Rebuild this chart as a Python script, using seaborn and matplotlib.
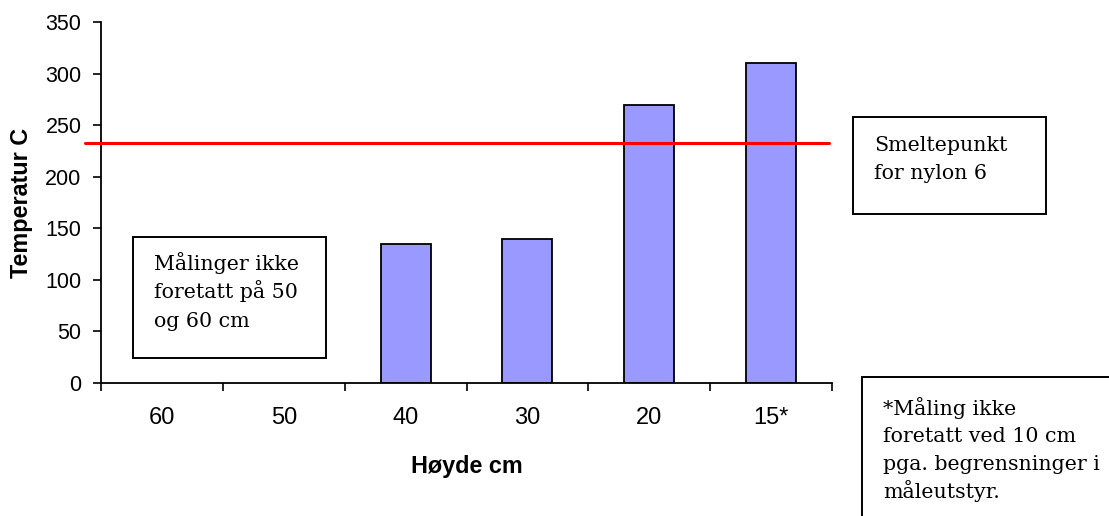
import matplotlib
matplotlib.use("Agg")
import matplotlib.pyplot as plt
from matplotlib.patches import Rectangle
import seaborn as sns
import pandas as pd
import numpy as np

# Heights (cm) along the x axis and measured temperatures (°C)
heights = ["60", "50", "40", "30", "20", "15*"]
measured_heights = ["40", "30", "20", "15*"]
temperatures = [135, 140, 270, 310]
melting_point = 233  # nylon 6
yticks = [0, 50, 100, 150, 200, 250, 300, 350]

note_missing = ["Målinger ikke", "foretatt på 50", "og 60 cm"]
note_melt = ["Smeltepunkt", "for nylon 6"]
note_star = ["*Måling ikke", "foretatt ved 10 cm", "pga. begrensninger i",
             "måleutstyr."]

sns.set_theme(style="white")
plt.rcParams["font.family"] = ["Liberation Sans", "DejaVu Sans"]
plt.rcParams.update({"text.color": "black", "axes.labelcolor": "black",
                     "xtick.color": "black", "ytick.color": "black"})

W, H = 1109, 516
fig = plt.figure(figsize=(W / 100, H / 100), dpi=100)
ax = fig.add_axes([101 / W, 1 - 383 / H, (832 - 101) / W, (383 - 22) / H])

df = pd.DataFrame({"Høyde": measured_heights, "Temperatur": temperatures})
sns.barplot(data=df, x="Høyde", y="Temperatur", order=heights,
            color="#9999FF", saturation=1, width=0.41,
            edgecolor="black", linewidth=1.3, ax=ax)

ax.set_xlim(-0.5, len(heights) - 0.5)
ax.set_ylim(0, 350)
ax.set_yticks(yticks)
ax.set_yticklabels([str(v) for v in yticks], fontsize=15.5)

# Category boundaries carry the tick marks, labels sit at the centres
bounds = np.arange(len(heights) + 1) - 0.5
ax.set_xticks(bounds)
ax.set_xticklabels([""] * len(bounds))
ax.set_xticks(np.arange(len(heights)), minor=True)
ax.set_xticklabels(heights, minor=True, fontsize=17)
ax.tick_params(axis="x", which="major", direction="out", length=6,
               width=1.2, color="black", bottom=True)
ax.tick_params(axis="x", which="minor", length=0, pad=17)
ax.tick_params(axis="y", direction="out", length=6, width=1.2,
               color="black", left=True, pad=8)

for side in ("top", "right"):
    ax.spines[side].set_visible(False)
for side in ("left", "bottom"):
    ax.spines[side].set_color("black")
    ax.spines[side].set_linewidth(1.3)

ax.set_xlabel("Høyde cm", fontsize=16.8, fontweight="bold")
ax.set_ylabel("Temperatur C", fontsize=16.8, fontweight="bold")
ax.xaxis.set_label_coords(0.5, -0.2)
ax.yaxis.set_label_coords(-0.093, 0.5)

# Melting point of nylon 6
ax.plot([-0.63, 5.477], [melting_point, melting_point], color="#FF0000",
        linewidth=2.2, clip_on=False, zorder=5)


def px_box(x0, y0, x1, y1):
    fig.patches.append(Rectangle((x0 / W, 1 - y1 / H), (x1 - x0) / W,
                                 (y1 - y0) / H, transform=fig.transFigure,
                                 facecolor="white", edgecolor="black",
                                 linewidth=1.4, zorder=3))


def px_lines(x, first_baseline, lines, pitch=28.3):
    for i, line in enumerate(lines):
        fig.text(x / W, 1 - (first_baseline + i * pitch) / H, line,
                 ha="left", va="baseline", fontsize=14.8,
                 family="DejaVu Serif", zorder=4)


px_box(133, 237, 326, 358)
px_lines(154, 270, note_missing)
px_box(853, 117, 1046, 214)
px_lines(874, 151, note_melt)
px_box(862, 377, 1140, 540)
px_lines(883, 415, note_star, pitch=27.5)

fig.savefig("out.png", dpi=100)
